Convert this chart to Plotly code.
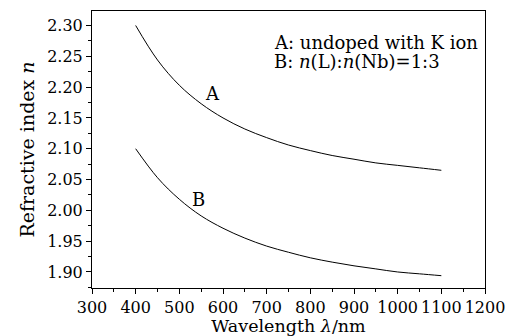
import plotly.graph_objects as go

wavelength = [400, 450, 500, 550, 600, 650, 700, 750, 800, 850, 900, 950, 1000, 1050, 1100]
n_A = [2.300, 2.244, 2.203, 2.173, 2.150, 2.132, 2.118, 2.106, 2.097, 2.089, 2.083, 2.077, 2.073, 2.069, 2.065]
n_B = [2.100, 2.053, 2.018, 1.991, 1.971, 1.955, 1.942, 1.932, 1.923, 1.916, 1.910, 1.905, 1.900, 1.897, 1.894]

x_ticks = [300, 400, 500, 600, 700, 800, 900, 1000, 1100, 1200]
y_ticks = [1.90, 1.95, 2.00, 2.05, 2.10, 2.15, 2.20, 2.25, 2.30]

FONT = "DejaVu Serif"
TICK = dict(family=FONT, size=16, color="black")
TXT = dict(family=FONT, size=18, color="black")
TITLE = dict(family=FONT, size=19, color="black")
XTITLE = dict(family=FONT, size=17.5, color="black")

fig = go.Figure()
for name, ys in (("A", n_A), ("B", n_B)):
    fig.add_trace(go.Scatter(x=wavelength, y=ys, mode="lines", name=name,
                             line=dict(color="black", width=1, shape="spline"),
                             showlegend=False))

fig.add_annotation(x=575, y=2.189, text="A", showarrow=False, font=TXT)
fig.add_annotation(x=543, y=2.017, text="B", showarrow=False, font=TXT)
fig.add_annotation(x=712, y=2.273, xanchor="left", text="A: undoped with K ion",
                   showarrow=False, font=TXT)
fig.add_annotation(x=712, y=2.241, xanchor="left", text="B: <i>n</i>(L):<i>n</i>(Nb)=1:3",
                   showarrow=False, font=TXT)

axis_common = dict(showline=True, linecolor="black", linewidth=1, mirror=True,
                   ticks="outside", ticklen=5, tickcolor="black", tickwidth=1,
                   showgrid=False, zeroline=False, automargin=False,
                   tickfont=TICK)

fig.update_xaxes(range=[300, 1200], tickvals=x_ticks, ticktext=[str(v) for v in x_ticks],
                 minor=dict(ticks="outside", ticklen=3, dtick=50, tickcolor="black"),
                 title=dict(text="Wavelength <i>λ</i>/nm", standoff=5, font=XTITLE),
                 **axis_common)
fig.update_yaxes(range=[1.874, 2.3235], tickvals=y_ticks, ticktext=[f"{v:.2f}" for v in y_ticks],
                 minor=dict(ticks="outside", ticklen=3, dtick=0.025, tick0=1.9, tickcolor="black"),
                 title=dict(text="Refractive index <i>n</i>", standoff=7, font=TITLE),
                 **axis_common)

fig.update_layout(width=520, height=336, margin=dict(l=92, r=35, t=11, b=48),
                  plot_bgcolor="white", paper_bgcolor="white")

fig.write_html("out.html", config={"displayModeBar": False},
               post_script="document.body.style.margin='0';document.body.style.overflow='hidden';")
